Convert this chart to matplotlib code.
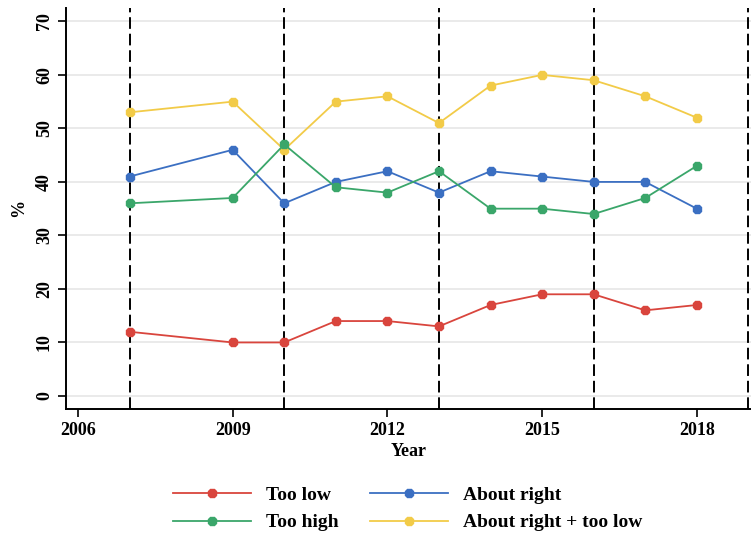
import matplotlib.pyplot as plt
from matplotlib.lines import Line2D

plt.rcParams['font.family'] = ['Liberation Serif', 'DejaVu Serif']
plt.rcParams['font.weight'] = 'bold'

years = [2007, 2009, 2010, 2011, 2012, 2013, 2014, 2015, 2016, 2017, 2018]
too_low = [12, 10, 10, 14, 14, 13, 17, 19, 19, 16, 17]
about_right = [41, 46, 36, 40, 42, 38, 42, 41, 40, 40, 35]
too_high = [36, 37, 47, 39, 38, 42, 35, 35, 34, 37, 43]
right_plus_low = [53, 55, 46, 55, 56, 51, 58, 60, 59, 56, 52]
vlines = [2007, 2010, 2013, 2016, 2019]

series = [
    ('Too low', too_low, '#d9453d'),
    ('Too high', too_high, '#3aa66a'),
    ('About right', about_right, '#3b6fc2'),
    ('About right + too low', right_plus_low, '#f2cb48'),
]

fig = plt.figure(figsize=(7.51, 5.33), dpi=100)
ax = fig.add_axes([0.088, 0.233, 0.912, 0.752])

for y in range(0, 71, 10):
    ax.axhline(y, color='#e6e6e6', lw=1.2, zorder=0)
for v in vlines:
    ax.axvline(v, color='black', ls=(0, (6, 2.5)), lw=1.4, zorder=1)

# draw in back-to-front order so the yellow line sits under the rest
for name, vals, col in [series[3], series[2], series[1], series[0]]:
    ax.plot(years, vals, color=col, lw=1.3, marker='8', ms=7, zorder=3)

ax.set_xlim(2005.77, 2019.05)
ax.set_ylim(-2.4, 72.5)
ax.set_xticks([2006, 2009, 2012, 2015, 2018])
ax.set_yticks(range(0, 71, 10))
for lab in ax.get_yticklabels():
    lab.set_rotation(90)
    lab.set_va('center')
ax.tick_params(labelsize=13, width=1.2, length=6)
ax.spines['top'].set_visible(False)
ax.spines['right'].set_visible(False)
ax.spines['left'].set_linewidth(1.4)
ax.spines['bottom'].set_linewidth(1.4)
ax.set_xlabel('Year', fontsize=13, fontweight='bold', labelpad=3)
ax.set_ylabel('%', fontsize=13, fontweight='bold', labelpad=6)

handles = [Line2D([], [], color=c, lw=1.3, marker='8', ms=7) for _, _, c in series]
labels = [n for n, _, _ in series]
fig.legend(handles, labels, ncol=2, loc='lower center', bbox_to_anchor=(0.543, -0.03),
           frameon=False, prop={'size': 14, 'weight': 'bold'}, handlelength=4.0,
           columnspacing=1.6, labelspacing=0.5, handletextpad=0.8)

fig.savefig('out.png', dpi=100)
